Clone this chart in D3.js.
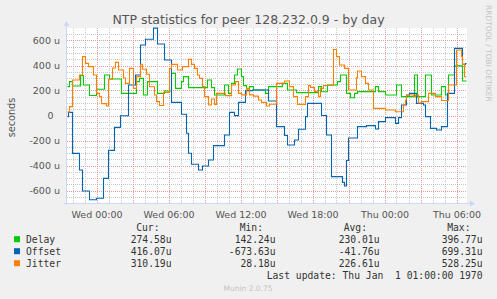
<!DOCTYPE html>
<html>
<head>
<meta charset="utf-8">
<script src="https://cdn.jsdelivr.net/npm/d3@7"></script>
<style>
  html, body { margin: 0; padding: 0; background: #f0f0f0; }
  svg { display: block; }
</style>
</head>
<body>
<svg id="chart" width="497" height="299"></svg>
<script>
// Samples: minutes relative to Wed 00:00, values in microseconds.
// Each value holds until the next time (rrd style steps).
const delayTimes = [-145, -135, -120, -80, -65, -35, 0, 40, 65, 125, 200, 215, 235, 255, 305, 340, 375, 395, 425, 435,
  460, 555, 575, 590, 640, 660, 675, 690, 705, 725, 735, 750, 765, 785, 845, 860, 930, 955, 1000, 1110,
  1125, 1155, 1205, 1220, 1250, 1270, 1290, 1305, 1395, 1410, 1445, 1500, 1525, 1590, 1605, 1645, 1675, 1725, 1745, 1760,
  1790, 1830, 1850];
const delayValues = [231, 271, 236, 319, 244, 160, 210, 324, 292, 177, 271, 297, 164, 271, 177, 196, 337, 217, 271, 311,
  223, 284, 223, 164, 244, 177, 257, 324, 372, 311, 239, 204, 231, 204, 177, 231, 257, 204, 183, 231,
  190, 244, 271, 324, 177, 142, 177, 191, 231, 191, 164, 244, 151, 324, 151, 324, 164, 231, 164, 324,
  397, 276, 276];

const offsetTimes = [-145, -140, -120, -85, -70, -35, 0, 35, 60, 90, 120, 160, 195, 220, 245, 285, 305, 340, 375, 425,
  450, 460, 475, 510, 530, 560, 585, 640, 665, 690, 710, 745, 780, 860, 900, 940, 955, 990, 1010, 1045,
  1055, 1125, 1150, 1175, 1230, 1240, 1250, 1260, 1305, 1350, 1395, 1410, 1445, 1495, 1510, 1525, 1550, 1565, 1600, 1635,
  1645, 1670, 1700, 1725, 1755, 1790, 1830, 1845, 1850];
const offsetValues = [-10, 25, -303, -436, -604, -674, -662, -503, -279, -95, -2, 244, 324, 564, 610, 699, 572, 444, 105, 10,
  -142, -302, -390, -436, -404, -356, -241, -156, 25, -1, 105, 199, 204, 116, -89, -160, -236, -196, -110, -9,
  97, 0, -156, -489, -535, -564, -360, -180, -89, -81, -108, -49, -17, -63, -17, 84, 164, 177, 97, 84,
  -9, -103, -116, -89, 177, 537, 409, 416, 416];

const jitterTimes = [-145, -135, -120, -85, -70, -55, -40, -15, 0, 15, 25, 50, 60, 80, 95, 110, 135, 145, 165, 185,
  200, 220, 230, 250, 265, 290, 300, 315, 335, 365, 375, 405, 430, 460, 475, 490, 505, 515, 530, 540,
  560, 575, 590, 600, 645, 675, 695, 710, 725, 750, 765, 785, 810, 825, 850, 865, 900, 940, 965, 985,
  1005, 1045, 1060, 1070, 1090, 1110, 1120, 1135, 1185, 1200, 1215, 1240, 1260, 1300, 1305, 1325, 1345, 1360, 1385, 1445,
  1495, 1535, 1545, 1550, 1585, 1595, 1610, 1625, 1660, 1695, 1725, 1760, 1800, 1825, 1830, 1840, 1850];
const jitterValues = [28, 71, 284, 324, 471, 417, 391, 324, 177, 151, 95, 76, 290, 380, 425, 364, 300, 257, 377, 217,
  311, 410, 370, 330, 230, 164, 111, 80, 185, 377, 409, 364, 391, 449, 409, 377, 324, 297, 231, 151,
  84, 132, 89, 177, 159, 244, 271, 177, 165, 217, 165, 155, 124, 105, 76, 90, 257, 276, 231, 151,
  89, 151, 239, 225, 191, 151, 217, 240, 528, 471, 404, 377, 204, 303, 356, 311, 257, 204, 57, 44,
  30, 84, 124, 164, 150, 164, 100, 111, 177, 151, 120, 244, 524, 471, 409, 310, 310];

const seriesNames = ['Delay', 'Offset', 'Jitter'];
const seriesColors = ['#00cc00', '#0066b3', '#ff8000'];
const curValues = ['274.58u', '416.07u', '310.19u'];
const minValues = ['142.24u', '-673.63u', '28.18u'];
const avgValues = ['230.01u', '-41.76u', '226.61u'];
const maxValues = ['396.77u', '699.31u', '528.25u'];
const yTicks = [-600, -400, -200, 0, 200, 400, 600];

const base = new Date(2024, 0, 3); // a Wednesday, 00:00
const toDate = m => new Date(+base + m * 60000);

const margin = {left: 67, top: 28, right: 467, bottom: 203};
const svg = d3.select('#chart');
const sans = 'DejaVu Sans, sans-serif';
const mono = 'DejaVu Sans Mono, monospace';
const axisColor = '#cfd6f8';

const x = d3.scaleTime()
  .domain([toDate(-147.5), toDate(1852.5)])
  .range([margin.left, margin.right]);
const y = d3.scaleLinear()
  .domain([-700, 700])
  .range([margin.bottom, margin.top]);

// canvas
svg.append('rect')
  .attr('x', margin.left).attr('y', margin.top)
  .attr('width', margin.right - margin.left).attr('height', margin.bottom - margin.top)
  .attr('fill', '#fff');

// grid
const grid = svg.append('g').attr('shape-rendering', 'crispEdges');
const minorY = d3.range(-650, 700, 50).filter(v => v % 200 !== 0);
grid.selectAll('.hmin').data(minorY).join('line')
  .attr('x1', margin.left).attr('x2', margin.right)
  .attr('y1', d => Math.round(y(d)) + 0.5).attr('y2', d => Math.round(y(d)) + 0.5)
  .attr('stroke', '#c8c8c8').attr('stroke-dasharray', '1,1');
const minorX = x.ticks(d3.timeHour.every(1)).filter(d => d.getHours() % 3 !== 0);
grid.selectAll('.vmin').data(minorX).join('line')
  .attr('x1', d => Math.round(x(d)) + 0.5).attr('x2', d => Math.round(x(d)) + 0.5)
  .attr('y1', margin.top).attr('y2', margin.bottom)
  .attr('stroke', '#c8c8c8').attr('stroke-dasharray', '1,1');
grid.selectAll('.hmaj').data(yTicks).join('line')
  .attr('x1', margin.left).attr('x2', margin.right)
  .attr('y1', d => Math.round(y(d)) + 0.5).attr('y2', d => Math.round(y(d)) + 0.5)
  .attr('stroke', '#e99a9a').attr('stroke-dasharray', '1,1');
grid.selectAll('.vmaj').data(x.ticks(d3.timeHour.every(3))).join('line')
  .attr('x1', d => Math.round(x(d)) + 0.5).attr('x2', d => Math.round(x(d)) + 0.5)
  .attr('y1', margin.top).attr('y2', margin.bottom)
  .attr('stroke', '#e99a9a').attr('stroke-dasharray', '1,1');

// axes lines + arrows
svg.append('line')
  .attr('x1', margin.left - 0.5).attr('x2', margin.left - 0.5)
  .attr('y1', margin.bottom + 2).attr('y2', margin.top - 3)
  .attr('stroke', axisColor);
svg.append('line')
  .attr('x1', margin.left - 3).attr('x2', margin.right + 4)
  .attr('y1', margin.bottom + 0.5).attr('y2', margin.bottom + 0.5)
  .attr('stroke', axisColor);
svg.append('path')
  .attr('d', `M${margin.left - 3.5},${margin.top - 2} L${margin.left - 0.5},${margin.top - 7} L${margin.left + 2.5},${margin.top - 2} Z`)
  .attr('fill', axisColor);
svg.append('path')
  .attr('d', `M${margin.right + 3},${margin.bottom - 2.5} L${margin.right + 8},${margin.bottom + 0.5} L${margin.right + 3},${margin.bottom + 3.5} Z`)
  .attr('fill', axisColor);

// axis labels
const xAxis = d3.axisBottom(x)
  .ticks(d3.timeHour.every(6))
  .tickFormat(d3.timeFormat('%a %H:%M'))
  .tickSize(0).tickPadding(6);
const gx = svg.append('g').attr('transform', `translate(0,${margin.bottom + 2})`).call(xAxis);
gx.select('.domain').remove();
gx.selectAll('text').attr('font-family', sans).attr('font-size', 9.5).attr('fill', '#555');

const yAxis = d3.axisLeft(y)
  .tickValues(yTicks)
  .tickFormat(d => d === 0 ? '0' : d + ' u')
  .tickSize(0).tickPadding(7);
const gy = svg.append('g').attr('transform', `translate(${margin.left},0)`).call(yAxis);
gy.select('.domain').remove();
gy.selectAll('text').attr('font-family', sans).attr('font-size', 9.5).attr('fill', '#555')
  .attr('x', d => d === 0 ? -13.5 : -7);

// series
const series = [
  {times: delayTimes, values: delayValues},
  {times: offsetTimes, values: offsetValues},
  {times: jitterTimes, values: jitterValues}
];
const line = d3.line()
  .x(d => x(toDate(d[0])))
  .y(d => y(d[1]))
  .curve(d3.curveStepAfter);
series.forEach((s, i) => {
  svg.append('path')
    .datum(d3.zip(s.times, s.values))
    .attr('d', line)
    .attr('fill', 'none')
    .attr('stroke', seriesColors[i])
    .attr('stroke-width', 1.1);
});

// titles
svg.append('text')
  .attr('x', 248.5).attr('y', 24)
  .attr('text-anchor', 'middle')
  .attr('font-family', sans).attr('font-size', 12.5).attr('fill', '#555')
  .text('NTP statistics for peer 128.232.0.9 - by day');
svg.append('text')
  .attr('transform', 'translate(15,117.5) rotate(-90)')
  .attr('text-anchor', 'middle')
  .attr('font-family', sans).attr('font-size', 9.7).attr('fill', '#555')
  .text('seconds');
svg.append('text')
  .attr('transform', 'translate(485.5,5) rotate(90)')
  .attr('font-family', sans).attr('font-size', 7.5).attr('fill', '#c4c4c4')
  .text('RRDTOOL / TOBI OETIKER');

// legend
const legend = svg.append('g').attr('font-family', mono).attr('font-size', 9.7).attr('fill', '#333');
const colEnds = [171.5, 275.5, 379.5, 482.5];
const headEnds = [159.5, 263, 367, 470.5];
['Cur:', 'Min:', 'Avg:', 'Max:'].forEach((h, i) => {
  legend.append('text').attr('x', headEnds[i]).attr('y', 231).attr('text-anchor', 'end').text(h);
});
seriesNames.forEach((name, i) => {
  const by = 242.7 + i * 12;
  legend.append('rect')
    .attr('x', 14).attr('y', by - 6.5).attr('width', 6).attr('height', 6)
    .attr('fill', seriesColors[i]);
  legend.append('text').attr('x', 26).attr('y', by).text(name);
  [curValues[i], minValues[i], avgValues[i], maxValues[i]].forEach((v, j) => {
    legend.append('text').attr('x', colEnds[j]).attr('y', by).attr('text-anchor', 'end').text(v);
  });
});
legend.append('text')
  .attr('x', 482.5).attr('y', 278.7)
  .attr('text-anchor', 'end')
  .style('white-space', 'pre')
  .text('Last update: Thu Jan  1 01:00:00 1970');

svg.append('text')
  .attr('x', 248).attr('y', 291)
  .attr('text-anchor', 'middle')
  .attr('font-family', sans).attr('font-size', 7.5).attr('fill', '#c4c4c4')
  .text('Munin 2.0.75');
</script>
</body>
</html>
